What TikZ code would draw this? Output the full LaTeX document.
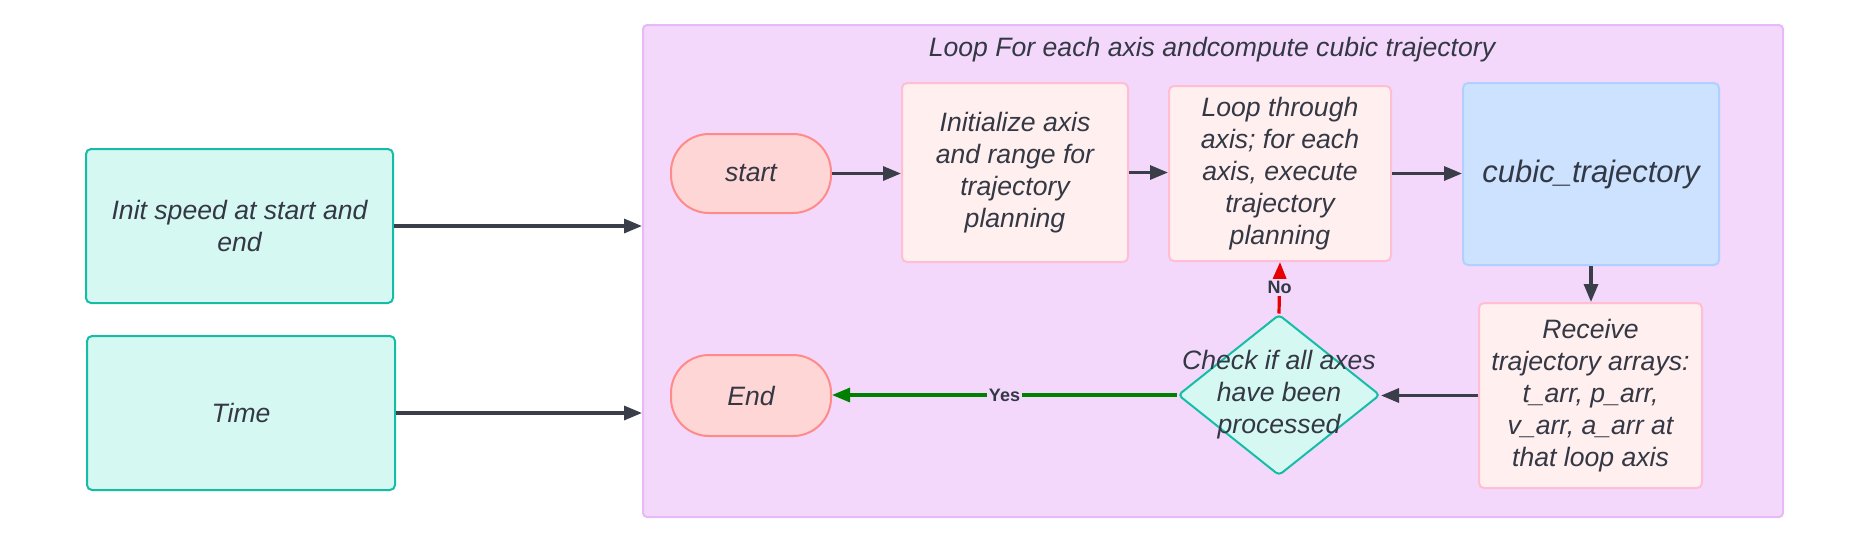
\documentclass[tikz,border=0pt]{standalone}
\usepackage{fontspec}
\setmainfont{Liberation Sans}
\usepackage{xcolor}
\usetikzlibrary{shapes.geometric, arrows.meta, positioning}

\definecolor{loopfill}{RGB}{243,216,252}
\definecolor{loopline}{RGB}{232,185,247}
\definecolor{tealfill}{RGB}{214,248,242}
\definecolor{tealline}{RGB}{20,190,165}
\definecolor{pinkfill}{RGB}{255,239,239}
\definecolor{pinkline}{RGB}{255,190,210}
\definecolor{redfill}{RGB}{255,214,214}
\definecolor{redline}{RGB}{255,138,138}
\definecolor{bluefill}{RGB}{204,226,255}
\definecolor{blueline}{RGB}{176,208,255}
\definecolor{txtcol}{RGB}{51,56,68}
\definecolor{arrowcol}{RGB}{58,62,73}
\definecolor{yescol}{RGB}{0,128,0}
\definecolor{nocol}{RGB}{230,0,0}

\begin{document}
\begin{tikzpicture}[x=0.5pt, y=-0.5pt,
  box/.style={rectangle, draw, line width=1pt, rounded corners=2.5pt, inner sep=0pt, align=center, text=txtcol, font=\itshape\fontsize{13.3}{16}\selectfont},
  inbox/.style={box, draw=tealline, fill=tealfill},
  stepbox/.style={box, draw=pinkline, fill=pinkfill},
  funcbox/.style={box, draw=blueline, fill=bluefill, font=\itshape\fontsize{15.5}{19}\selectfont},
  termbox/.style={box, draw=redline, fill=redfill, rounded corners=19pt},
  decision/.style={diamond, draw=tealline, fill=tealfill, line width=1pt, rounded corners=2pt, inner sep=0pt, minimum width=101pt, minimum height=80.5pt},
  flow/.style={-{Triangle[length=9pt,width=7pt]}, line width=1.6pt, draw=arrowcol},
  edgelabel/.style={fill=loopfill, inner sep=1pt, text=txtcol, font=\bfseries\fontsize{9}{10}\selectfont}
]
\useasboundingbox (0,0) rectangle (1869,543);

% inputs
\node (init) [inbox, minimum width=153.5pt, minimum height=77pt] at (239.5,226) {Init speed at start and\\end};
\node (time) [inbox, minimum width=154pt, minimum height=77pt] at (241,413) {Time};

% loop group
\node (loopbox) [rectangle, draw=loopline, fill=loopfill, line width=1pt, rounded corners=2pt, minimum width=570pt, minimum height=246pt] at (1213,271) {};
\node (looptitle) [text=txtcol, font=\itshape\fontsize{13.3}{16}\selectfont] at (1212,50) {Loop For each axis andcompute cubic trajectory};

\node (start) [termbox, minimum width=80pt, minimum height=39.5pt] at (751,173.5) {start};
\node (initaxis) [stepbox, minimum width=113pt, minimum height=89.5pt] at (1015,172.5) {Initialize axis\\and range for\\trajectory\\planning};
\node (loopaxis) [stepbox, minimum width=111pt, minimum height=87.5pt] at (1280,173.5) {Loop through\\axis; for each\\axis, execute\\trajectory\\planning};
\node (cubic) [funcbox, minimum width=128pt, minimum height=91pt] at (1591,174) {cubic\_trajectory};
\node (receive) [stepbox, minimum width=111.5pt, minimum height=92.5pt] at (1590.5,395.5) {Receive\\trajectory arrays:\\t\_arr, p\_arr,\\v\_arr, a\_arr at\\that loop axis};
\node (check) [decision] at (1279,395) {};
\node (checktext) [align=center, text=txtcol, font=\itshape\fontsize{13.3}{16}\selectfont] at (check.center) {Check if all axes\\have been\\processed};
\node (end) [termbox, minimum width=80pt, minimum height=40.5pt] at (751,395.5) {End};

% connectors
\draw [flow] (init.east) -- (init.east -| loopbox.west);
\draw [flow] (time.east) -- (time.east -| loopbox.west);
\draw [flow] (start.east) -- (start.east -| initaxis.west);
\draw [flow] (initaxis.east) -- (initaxis.east -| loopaxis.west);
\draw [flow] (loopaxis.east) -- (loopaxis.east -| cubic.west);
\draw [flow] (cubic.south) -- (cubic.south |- receive.north);
\draw [flow] (receive.west) -- (receive.west -| check.east);
\draw [flow, draw=yescol, color=yescol] (check.west) -- node [edgelabel] {Yes} (check.west -| end.east);
\draw [flow, draw=nocol, color=nocol] (check.north) -- node [edgelabel] {No} (loopaxis.south);
\end{tikzpicture}
\end{document}
